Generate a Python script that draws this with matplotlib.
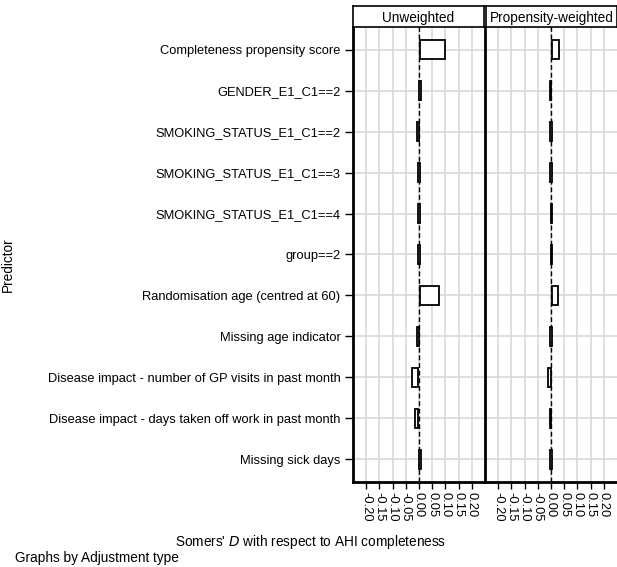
import matplotlib
matplotlib.use('Agg')
import matplotlib.pyplot as plt
import numpy as np

plt.rcParams['font.family'] = ['Liberation Sans', 'DejaVu Sans']
plt.rcParams['axes.unicode_minus'] = False

# predictors, top to bottom
predictors = ['Completeness propensity score', 'GENDER_E1_C1==2',
              'SMOKING_STATUS_E1_C1==2', 'SMOKING_STATUS_E1_C1==3',
              'SMOKING_STATUS_E1_C1==4', 'group==2',
              'Randomisation age (centred at 60)', 'Missing age indicator',
              'Disease impact - number of GP visits in past month',
              'Disease impact - days taken off work in past month',
              'Missing sick days']
panels = ['Unweighted', 'Propensity-weighted']

# confidence limits of Somers' D
unw_lo = [0.002, 0.001, -0.006, -0.003, -0.002, -0.003, 0.002, -0.006, -0.027, -0.014, 0.000]
unw_hi = [0.098, 0.006, 0.000, 0.003, 0.003, 0.003, 0.077, 0.000, -0.004, -0.003, 0.008]
pw_lo = [0.002, -0.004, -0.003, -0.003, 0.000, 0.000, 0.002, -0.003, -0.012, -0.004, -0.003]
pw_hi = [0.030, 0.001, 0.003, 0.003, 0.005, 0.005, 0.028, 0.003, -0.001, 0.001, 0.003]

xticks = [-0.20, -0.15, -0.10, -0.05, 0.00, 0.05, 0.10, 0.15, 0.20]

W, H = 617, 567
fig = plt.figure(figsize=(W / 100, H / 100), dpi=100)
fs = 9.3

rows = np.arange(1, len(predictors) + 1)
lefts = [353, 485]
pw = 132
top, bottom = 27, 482

for i, (lo, hi) in enumerate([(unw_lo, unw_hi), (pw_lo, pw_hi)]):
    ax = fig.add_axes([lefts[i] / W, 1 - bottom / H, pw / W, (bottom - top) / H])
    ax.set_xlim(-0.25, 0.25)
    ax.set_ylim(len(predictors) + 0.55, 0.45)
    ax.set_xticks(xticks)
    ax.set_xticklabels(['%.2f' % t for t in xticks], rotation=270, fontsize=fs)
    ax.set_yticks(rows)
    ax.grid(True, color='#d9d9d9', lw=1.2, zorder=0)
    ax.set_axisbelow(True)
    ax.axvline(0, color='black', lw=1, ls=(0, (3.5, 2)), zorder=2)
    widths = np.array(hi) - np.array(lo)
    ax.barh(rows, widths, left=lo, height=0.45, facecolor='white',
            edgecolor='black', lw=1.3, zorder=3)
    ax.tick_params(axis='x', length=5, width=1, pad=2)
    if i == 0:
        ax.set_yticklabels(predictors, fontsize=fs)
        ax.tick_params(axis='y', length=6, width=1, pad=3)
    else:
        ax.tick_params(axis='y', length=0, labelleft=False)
    for s in ['top', 'right']:
        ax.spines[s].set_visible(False)
    ax.spines['left'].set_linewidth(2)
    ax.spines['bottom'].set_linewidth(2)

    # title strip
    sx = lefts[i] + (1 if i else 0)
    sw = pw - 1
    strip = fig.add_axes([sx / W, 1 - top / H, sw / W, 21 / H])
    strip.set_xticks([])
    strip.set_yticks([])
    for s in strip.spines.values():
        s.set_linewidth(1.2)
    strip.text(0.5, 0.45, panels[i], ha='center', va='center', fontsize=9.8,
               transform=strip.transAxes)

fig.text(311 / W, 1 - 542 / H, "Somers' $D$ with respect to AHI completeness",
         ha='center', va='center', fontsize=9.8)
fig.text(15 / W, 1 - 558 / H, 'Graphs by Adjustment type', ha='left',
         va='center', fontsize=9.8)
fig.text(8 / W, 1 - 265 / H, 'Predictor', rotation=90, ha='center',
         va='center', fontsize=9.8)

fig.savefig('out.png', dpi=100)
